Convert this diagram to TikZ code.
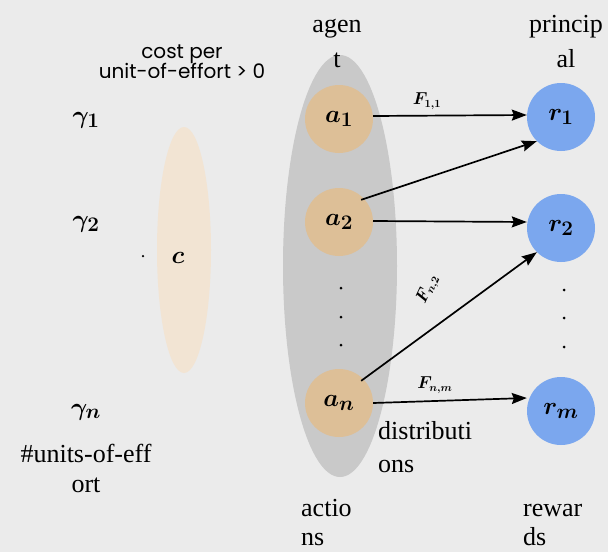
\documentclass[tikz,border=0pt]{standalone}
\usepackage{fontspec}
\setmainfont{Liberation Serif}
\newfontfamily\sansf{Poppins}
\usetikzlibrary{arrows.meta,shapes.geometric}
\definecolor{bg}{HTML}{EBEBEB}
\definecolor{agentgray}{HTML}{C9C9C9}
\definecolor{tan}{HTML}{DDBF97}
\definecolor{cream}{HTML}{F2E4D3}
\definecolor{blue1}{HTML}{7BA7EE}
\begin{document}
\begin{tikzpicture}[x=1pt,y=-1pt,
  txtl/.style={font=\fontsize{26}{31}\selectfont, inner sep=0pt, align=left, anchor=base west},
  txtc/.style={font=\fontsize{26}{31}\selectfont, inner sep=0pt, anchor=base},
  mth/.style={font=\fontsize{30}{34}\selectfont\boldmath, inner sep=0pt, anchor=base},
  acirc/.style={circle, fill=tan, minimum size=68pt, inner sep=0pt, font=\fontsize{30}{34}\selectfont\boldmath},
  rcirc/.style={circle, fill=blue1, minimum size=68pt, inner sep=0pt, font=\fontsize{30}{34}\selectfont\boldmath},
  arr/.style={-{Stealth[length=15pt,width=11pt,inset=2pt]}, line width=1.7pt},
  flab/.style={font=\fontsize{16}{18}\selectfont\boldmath, inner sep=0pt},
  vdot/.style={circle, fill=black, inner sep=0pt, minimum size=3pt}]
\fill[bg] (0,0) rectangle (608,552);
\useasboundingbox (0,0) rectangle (608,552);
% ellipses
\node[ellipse, fill=agentgray, minimum width=114pt, minimum height=422pt, inner sep=0pt] (agentell) at (340,266) {};
\node[ellipse, fill=cream, minimum width=54pt, minimum height=246pt, inner sep=0pt] (cell) at (184,250) {};
% top labels
\begin{scope}
\clip (0,0) rectangle (608,77);
\node[font=\sansf\fontsize{20}{20}\selectfont, inner sep=0pt, anchor=base] (cost1) at (182,58) {cost per};
\node[font=\sansf\fontsize{20}{20}\selectfont, inner sep=0pt, anchor=base] (cost2) at (182,78) {unit-of-effort > 0};
\end{scope}
\node[txtc] (agent1) at (337,32) {agen};
\node[txtc] (agent2) at (337,67) {t};
\node[txtc] (princ1) at (566,32) {princip};
\node[txtc] (princ2) at (566,67) {al};
% gammas
\node[mth] (g1) at (86,123) {$\gamma_1$};
\node[mth] (g2) at (86,227) {$\gamma_2$};
\node[mth] (gn) at (86,415) {$\gamma_n$};
\node[txtc] (units1) at (86,462) {\#units-of-eff};
\node[txtc] (units2) at (86,492) {ort};
% c
\node[mth] (c) at (178,263) {$c$};
\node[vdot, minimum size=2.5pt] (cdot) at (143,256) {};
% agent circles
\node[acirc] (a1) at (339,119) {$a_1$};
\node[acirc] (a2) at (339,222) {$a_2$};
\node[acirc] (an) at (339,403) {$a_n$};
% principal circles
\node[rcirc] (r1) at (561,117) {$r_1$};
\node[rcirc] (r2) at (561,228) {$r_2$};
\node[rcirc] (rm) at (561,411) {$r_m$};
% vertical dots
\node[vdot] (ad1) at (341,288) {};
\node[vdot] (ad2) at (341,317) {};
\node[vdot] (ad3) at (341,345) {};
\node[vdot] (rd1) at (564,290) {};
\node[vdot] (rd2) at (564,318) {};
\node[vdot] (rd3) at (564,347) {};
% arrows
\draw[arr] (a1.east |- 0,116) -- (r1.west |- 0,115);
\draw[arr] (a2.north east) ++(-2,2) -- (r1.south west);
\draw[arr] (a2) ++(34,-1) -- (r2.west |- 0,222);
\draw[arr] (an.north east) ++(-2,2) -- (r2.south west);
\draw[arr] (an.east |- 0,403) -- (rm.west |- 0,398);
% F labels
\node[flab] (f11) at (427,101) {$F_{1,1}$};
\node[flab, rotate=65] (fn2) at (428,289) {$F_{n,2}$};
\node[flab] (fnm) at (435,385) {$F_{n,m}$};
% bottom labels
\node[txtl] (dist1) at (378,439) {distributi};
\node[txtl] (dist2) at (378,472) {ons};
\node[txtl] (act1) at (301,516) {actio};
\node[txtl] (act2) at (301,545) {ns};
\node[txtl] (rew1) at (523,516) {rewar};
\node[txtl] (rew2) at (523,545) {ds};
\end{tikzpicture}
\end{document}
